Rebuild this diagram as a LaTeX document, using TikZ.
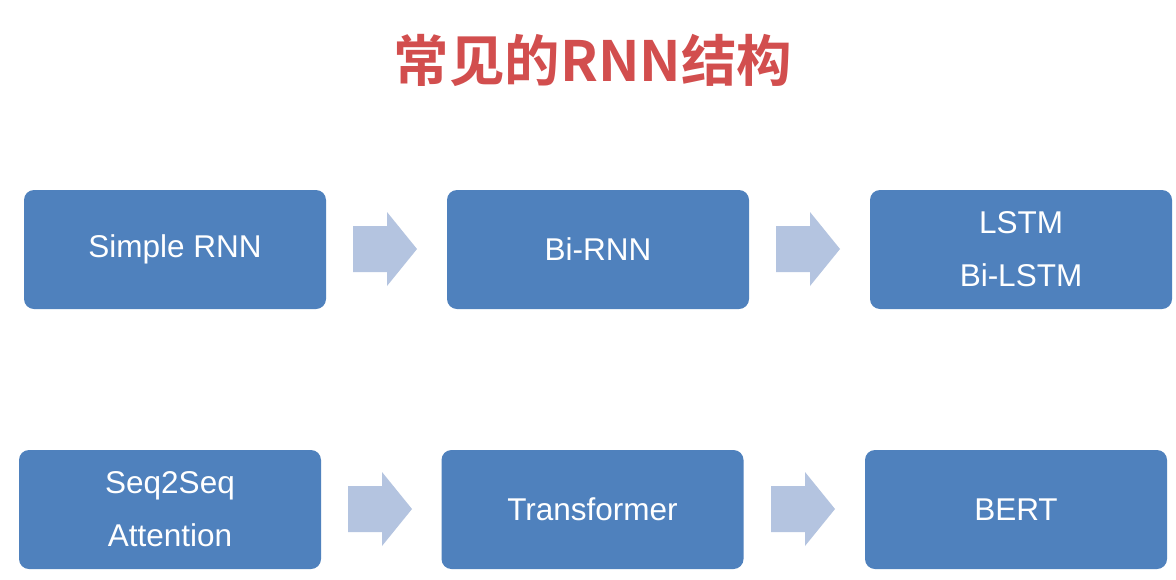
\documentclass[tikz,border=0pt]{standalone}
\usepackage{fontspec}
\setmainfont{Liberation Sans}
\newfontfamily\cjk{Noto Sans CJK SC}[BoldFont={* Bold}]
\definecolor{boxblue}{RGB}{79,129,189}
\definecolor{arrowblue}{RGB}{180,196,224}
\definecolor{titlered}{RGB}{210,78,78}
\begin{document}
\begin{tikzpicture}[x=1pt,y=-1pt,
  stage/.style={fill=boxblue, draw=none, rounded corners=10pt, minimum width=302pt, minimum height=119pt,
    text=white, align=center, inner sep=0pt, font=\fontsize{31.5}{53}\selectfont},
  flow/.style={fill=arrowblue, draw=none}
]
\useasboundingbox (0,0) rectangle (1176,579);
\fill[white] (0,0) rectangle (1176,579);
\node[text=titlered, font=\cjk\bfseries\fontsize{55.5}{60}\selectfont, inner sep=0pt] (title) at (593,60) {常见的RNN结构};

\node[stage] (srnn) at (175,249.5) {Simple RNN};
\node[stage] (birnn) at (598,249.5) {Bi-RNN};
\node[stage] (lstm) at (1021,249.5) {LSTM\\Bi-LSTM};
\node[stage] (s2s) at (170,509.5) {Seq2Seq\\Attention};
\node[stage] (tf) at (592.5,509.5) {Transformer};
\node[stage] (bert) at (1016,509.5) {BERT};

% block arrows: tail point of each arrow
\coordinate (a1) at (353,249);
\coordinate (a2) at (776,249);
\coordinate (a3) at (348,509);
\coordinate (a4) at (771,509);
\foreach \a in {a1,a2,a3,a4}{
  \fill[flow] (\a) ++(0,-23) -- ++(34,0) -- ++(0,-14) -- ++(30,37) -- ++(-30,37) -- ++(0,-14) -- ++(-34,0) -- cycle;
}
\end{tikzpicture}
\end{document}
